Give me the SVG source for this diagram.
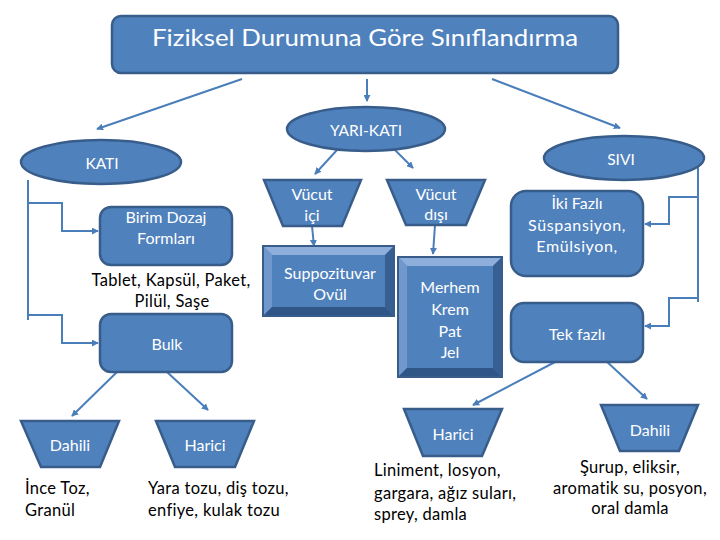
<svg xmlns="http://www.w3.org/2000/svg" width="720" height="540" viewBox="0 0 720 540">
<style>
.n{fill:#4F81BD;stroke:#385D8A;stroke-width:2.5}
.t{font-family:Lato,"Liberation Sans",sans-serif;font-size:16px;fill:#fff;text-anchor:middle;dominant-baseline:central}
.b{font-family:Lato,"Liberation Sans",sans-serif;font-size:16.5px;fill:#000;dominant-baseline:central;letter-spacing:0.3px}
.e{font-size:15.5px}
.c{fill:none;stroke:#4A7EBB;stroke-width:2}
.bt{fill:#8EAEDC}.bl{fill:#7098CC}.br{fill:#375F92}.bb{fill:#2F5687}
</style>
<defs>
<marker id="a" viewBox="0 0 8 8" refX="7" refY="4" markerWidth="7" markerHeight="7" markerUnits="userSpaceOnUse" orient="auto">
<path d="M0,0 L8,4 L0,8 z" fill="#4A7EBB"/>
</marker>
</defs>
<rect width="720" height="540" fill="#fff"/>
<g id="connectors">
<line class="c" x1="242" y1="79" x2="97" y2="129" marker-end="url(#a)"/>
<line class="c" x1="367" y1="79" x2="367" y2="101" marker-end="url(#a)"/>
<line class="c" x1="492" y1="79" x2="620" y2="128" marker-end="url(#a)"/>
<polyline class="c" points="28,180 28,320"/>
<polyline class="c" points="28,203 62,203 62,231 98,231" marker-end="url(#a)"/>
<polyline class="c" points="28,315 62,315 62,343 98,343" marker-end="url(#a)"/>
<polyline class="c" points="698,165 698,302"/>
<polyline class="c" points="698,197 669,197 669,224 645,224" marker-end="url(#a)"/>
<polyline class="c" points="698,298 669,298 669,326 645,326" marker-end="url(#a)"/>
<line class="c" x1="337" y1="150" x2="315" y2="174" marker-end="url(#a)"/>
<line class="c" x1="395" y1="150" x2="413" y2="168" marker-end="url(#a)"/>
<line class="c" x1="312" y1="226" x2="314" y2="246" marker-end="url(#a)"/>
<line class="c" x1="435" y1="225" x2="433" y2="254" marker-end="url(#a)"/>
<line class="c" x1="117" y1="372" x2="72" y2="416" marker-end="url(#a)"/>
<line class="c" x1="167" y1="372" x2="208" y2="410" marker-end="url(#a)"/>
<line class="c" x1="557" y1="361" x2="473" y2="405" marker-end="url(#a)"/>
<line class="c" x1="605" y1="360" x2="647" y2="399" marker-end="url(#a)"/>
</g>
<g id="title">
<rect class="n" x="112" y="16" width="506" height="57" rx="9"/>
<text class="t" x="365" y="36" style="font-size:24px" textLength="426" lengthAdjust="spacingAndGlyphs">Fiziksel Durumuna Göre Sınıflandırma</text>
</g>
<g id="yarikati">
<ellipse class="n" cx="366" cy="129" rx="79" ry="22"/>
<text class="t e" x="366" y="130">YARI-KATI</text>
</g>
<g id="kati">
<ellipse class="n" cx="101" cy="162" rx="80" ry="22"/>
<text class="t e" x="102" y="163">KATI</text>
</g>
<g id="sivi">
<ellipse class="n" cx="624" cy="158" rx="80" ry="22"/>
<text class="t e" x="621" y="159">SIVI</text>
</g>
<g id="birim">
<rect class="n" x="100" y="207" width="132" height="58" rx="11"/>
<text class="t" x="166" y="216">Birim Dozaj</text>
<text class="t" x="166" y="237">Formları</text>
</g>
<g id="tablet">
<text class="b" x="171" y="280" text-anchor="middle">Tablet, Kapsül, Paket,</text>
<text class="b" x="172" y="301" text-anchor="middle">Pilül, Saşe</text>
</g>
<g id="bulk">
<rect class="n" x="100" y="314" width="132" height="58" rx="11"/>
<text class="t" x="167" y="343">Bulk</text>
</g>
<g id="dahili-kati">
<polygon class="n" points="21,421 119,421 100,467 41,467"/>
<text class="t" x="70" y="444">Dahili</text>
</g>
<g id="harici-kati">
<polygon class="n" points="156,421 254,421 235,467 175,467"/>
<text class="t" x="205" y="444">Harici</text>
</g>
<g id="ince">
<text class="b" x="25" y="488">İnce Toz,</text>
<text class="b" x="25" y="510">Granül</text>
</g>
<g id="yara">
<text class="b" x="148" y="488">Yara tozu, diş tozu,</text>
<text class="b" x="148" y="510">enfiye, kulak tozu</text>
</g>
<g id="vucut-ici">
<polygon class="n" points="264,180 361,180 342,226 283,226"/>
<text class="t" x="312" y="193">Vücut</text>
<text class="t" x="312" y="214">içi</text>
</g>
<g id="vucut-disi">
<polygon class="n" points="387,180 485,180 466,225 406,225"/>
<text class="t" x="436" y="193">Vücut</text>
<text class="t" x="436" y="213">dışı</text>
</g>
<g id="suppozituvar">
<rect x="263" y="246" width="131" height="70" fill="#4F81BD" stroke="#385D8A" stroke-width="2"/>
<polygon class="bt" points="264,247 393,247 385,255 272,255"/>
<polygon class="bl" points="264,247 272,255 272,307 264,315"/>
<polygon class="br" points="393,247 393,315 385,307 385,255"/>
<polygon class="bb" points="264,315 393,315 385,307 272,307"/>
<text class="t" x="330" y="272">Suppozituvar</text>
<text class="t" x="330" y="293">Ovül</text>
</g>
<g id="merhem">
<rect x="398" y="257" width="104" height="120" fill="#4F81BD" stroke="#385D8A" stroke-width="2"/>
<polygon class="bt" points="399,258 501,258 493,266 407,266"/>
<polygon class="bl" points="399,258 407,266 407,368 399,376"/>
<polygon class="br" points="501,258 501,376 493,368 493,266"/>
<polygon class="bb" points="399,376 501,376 493,368 407,368"/>
<text class="t" x="450" y="286">Merhem</text>
<text class="t" x="450" y="308">Krem</text>
<text class="t" x="450" y="330">Pat</text>
<text class="t" x="450" y="351">Jel</text>
</g>
<g id="iki-fazli">
<rect class="n" x="511" y="191" width="132" height="85" rx="15"/>
<text class="t" x="577" y="202">İki Fazlı</text>
<text class="t" x="577" y="224" style="letter-spacing:0.6px">Süspansiyon,</text>
<text class="t" x="577" y="245" style="letter-spacing:0.6px">Emülsiyon,</text>
</g>
<g id="tek-fazli">
<rect class="n" x="511" y="303" width="132" height="59" rx="13"/>
<text class="t" x="577" y="333">Tek fazlı</text>
</g>
<g id="harici-sivi">
<polygon class="n" points="404,409 502,409 482,456 423,456"/>
<text class="t" x="453" y="433">Harici</text>
</g>
<g id="liniment">
<text class="b" x="374" y="470">Liniment, losyon,</text>
<text class="b" x="374" y="493">gargara, ağız suları,</text>
<text class="b" x="374" y="514">sprey, damla</text>
</g>
<g id="dahili-sivi">
<polygon class="n" points="601,405 698,405 679,451 620,451"/>
<text class="t" x="650" y="429">Dahili</text>
</g>
<g id="surup">
<text class="b" x="630" y="467" text-anchor="middle">Şurup, eliksir,</text>
<text class="b" x="630" y="488" text-anchor="middle">aromatik su, posyon,</text>
<text class="b" x="630" y="508" text-anchor="middle">oral damla</text>
</g>
</svg>
